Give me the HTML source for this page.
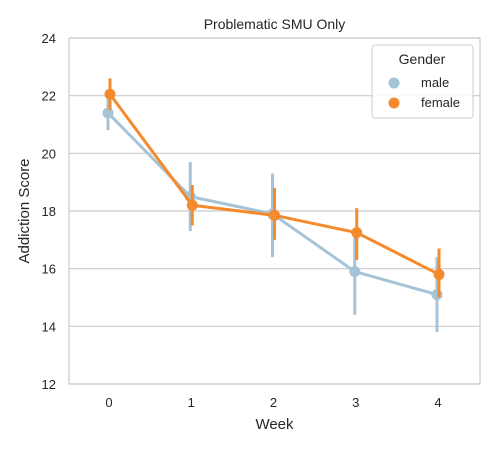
<!DOCTYPE html>
<html><head><meta charset="utf-8"><style>
body{margin:0;background:#fff;font-family:"Liberation Sans","DejaVu Sans",sans-serif}
</style></head><body>
<svg id="chart" width="500" height="450" xmlns="http://www.w3.org/2000/svg">
<rect width="500" height="450" fill="#fff"/>
<g id="grid"></g>
<rect x="69" y="38" width="411" height="346" fill="none" stroke="#ccc" stroke-width="1.2"/>
<g id="ticks" font-size="13" fill="#262626"></g>
<g id="series"></g>
<text x="274.5" y="29" text-anchor="middle" font-size="14" fill="#262626">Problematic SMU Only</text>
<text x="274.5" y="429" text-anchor="middle" font-size="15" fill="#262626">Week</text>
<text transform="translate(29,211) rotate(-90)" text-anchor="middle" font-size="15" fill="#262626">Addiction Score</text>
<g>
<rect x="372" y="45" width="101" height="73" rx="3" fill="#fff" fill-opacity="0.85" stroke="#ccc"/>
<text x="422" y="64" text-anchor="middle" font-size="14" fill="#262626">Gender</text>
<circle cx="394" cy="83" r="5.5" fill="#a6c4d8"/>
<text x="421" y="87" font-size="13" fill="#262626">male</text>
<circle cx="394" cy="103" r="5.5" fill="#f58a2c"/>
<text x="421" y="107" font-size="13" fill="#262626">female</text>
</g>
</svg>
<script>
const weeks=[0,1,2,3,4];
const yTicks=[12,14,16,18,20,22,24];
const maleMean=[21.4,18.5,17.9,15.9,15.1];
const maleLo=[20.8,17.3,16.4,14.4,13.8];
const maleHi=[22.0,19.7,19.3,17.2,16.4];
const femaleMean=[22.05,18.2,17.85,17.25,15.8];
const femaleLo=[21.5,17.5,17.0,16.3,15.0];
const femaleHi=[22.6,18.9,18.8,18.1,16.7];
const NS="http://www.w3.org/2000/svg";
const xS=w=>109+w*82.25;
const yS=v=>384-(v-12)*(346/12);
function mk(tag,attrs,parent){const e=document.createElementNS(NS,tag);for(const k in attrs)e.setAttribute(k,attrs[k]);parent.appendChild(e);return e;}
const grid=document.getElementById('grid'),ticks=document.getElementById('ticks'),series=document.getElementById('series');
yTicks.forEach(t=>{
 const l=mk('line',{x1:69,x2:480,y1:yS(t),y2:yS(t),stroke:'#ccc','stroke-width':1.2},grid);
 
 
 const tx=mk('text',{x:56,y:yS(t)+5,'text-anchor':'end'},ticks);tx.textContent=t;
 
 
});
weeks.forEach(w=>{
 const tx=mk('text',{x:xS(w),y:407,'text-anchor':'middle'},ticks);tx.textContent=w;
 
 
});
function draw(mean,lo,hi,color,name,off){
 const g=mk('g',{},series);
 
 
 lo.forEach((v,i)=>{
  const e=mk('line',{x1:xS(weeks[i])+off,x2:xS(weeks[i])+off,y1:yS(v),y2:yS(hi[i]),stroke:color,'stroke-width':3},g);
  
  
 });
 const p=mk('polyline',{points:mean.map((v,i)=>(xS(weeks[i])+off)+','+yS(v)).join(' '),fill:'none',stroke:color,'stroke-width':3},g);
 
 
 mean.forEach((v,i)=>{
  const c=mk('circle',{cx:xS(weeks[i])+off,cy:yS(v),r:5.5,fill:color},g);
  
  
 });
}
draw(maleMean,maleLo,maleHi,'#a6c4d8','male',-1);
draw(femaleMean,femaleLo,femaleHi,'#f58a2c','female',1);
</script>
</body></html>
